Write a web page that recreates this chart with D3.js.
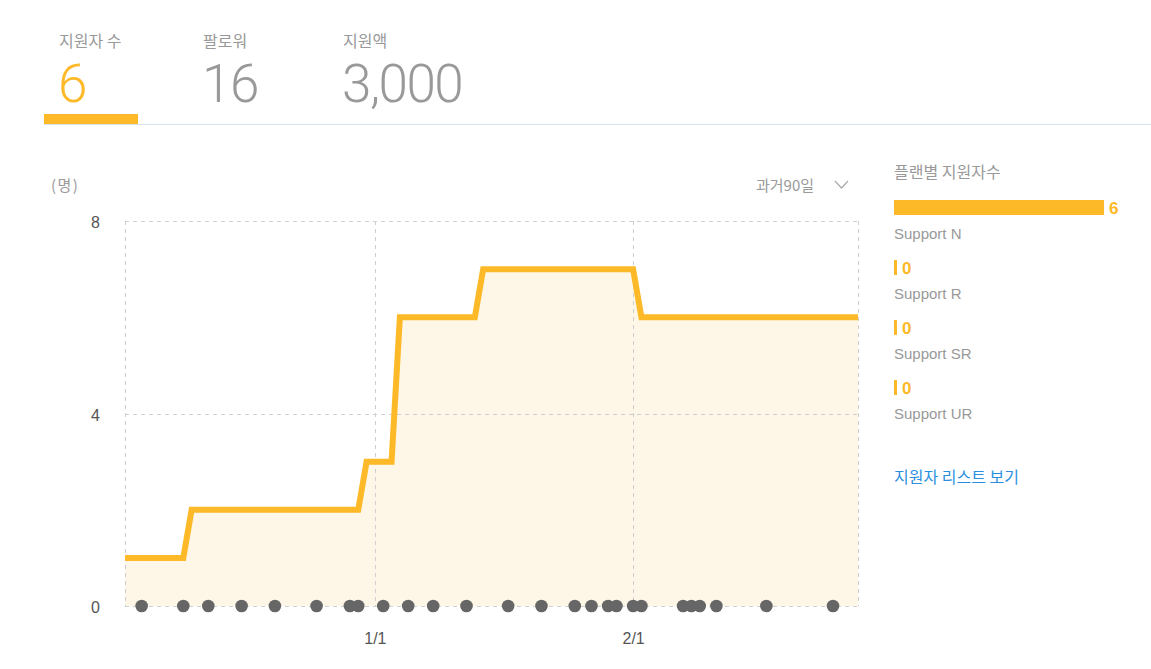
<!DOCTYPE html>
<html>
<head>
<meta charset="utf-8">
<script src="https://cdn.jsdelivr.net/npm/d3@7"></script>
<style>
  html, body { margin: 0; padding: 0; background: #fff; }
  svg { display: block; }
  text { font-family: "Liberation Sans", Arial, "Noto Sans CJK KR", sans-serif; }
  .kr { font-family: "Noto Sans CJK KR", "Liberation Sans", sans-serif; }
  .big { font-family: Roboto, "Open Sans", sans-serif; font-weight: 300; }
</style>
</head>
<body>
<svg id="chart" width="1151" height="669"></svg>
<script>
// ---------- data ----------
const tabLabels = ["지원자 수", "팔로워", "지원액"];
const tabValues = ["6", "16", "3,000"];

const lineDates  = ["2020-12-02","2020-12-09","2020-12-10","2020-12-30","2020-12-31","2021-01-03",
                    "2021-01-04","2021-01-13","2021-01-14","2021-02-01","2021-02-02","2021-02-28"];
const lineValues = [1, 1, 2, 2, 3, 3, 6, 6, 7, 7, 6, 6];

const dotDates = ["2020-12-04","2020-12-09","2020-12-12","2020-12-16","2020-12-20","2020-12-25",
                  "2020-12-29","2020-12-30","2021-01-02","2021-01-05","2021-01-08","2021-01-12",
                  "2021-01-17","2021-01-21","2021-01-25","2021-01-27","2021-01-29","2021-01-30",
                  "2021-02-01","2021-02-02","2021-02-07","2021-02-08","2021-02-09","2021-02-11",
                  "2021-02-17","2021-02-25"];

const xDomain = ["2020-12-02", "2021-02-28"];
const xTickDates = ["2021-01-01", "2021-02-01"];
const yTicks = [0, 4, 8];

const planNames  = ["Support N", "Support R", "Support SR", "Support UR"];
const planValues = [6, 0, 0, 0];

// ---------- drawing ----------
const parse = d3.timeParse("%Y-%m-%d");
const svg = d3.select("#chart");
const YELLOW = "#FDB927";

// Tabs
const tabX = [59, 203, 343];
const tabs = svg.append("g");
tabLabels.forEach((t, i) => {
  tabs.append("text").attr("class", "kr").attr("x", tabX[i]).attr("y", 47)
    .attr("font-size", 16).attr("fill", "#999").text(t);
  tabs.append("text").attr("class", "big").attr("x", tabX[i] - 1).attr("y", 102)
    .attr("font-size", 53).attr("fill", i === 0 ? YELLOW : "#999")
    .attr("letter-spacing", -1.5).text(tabValues[i]);
});
svg.append("line").attr("x1", 44).attr("x2", 1151).attr("y1", 124.5).attr("y2", 124.5)
  .attr("stroke", "#d8e2ea").attr("stroke-width", 1);
svg.append("rect").attr("x", 44).attr("y", 114).attr("width", 94).attr("height", 10).attr("fill", YELLOW);

// Chart scales
const x = d3.scaleTime().domain(xDomain.map(parse)).range([125, 858]);
const y = d3.scaleLinear().domain([0, 8]).range([606, 221]);

const lineData = lineDates.map((d, i) => ({ date: parse(d), value: lineValues[i] }));

// Area
svg.append("path")
  .datum(lineData)
  .attr("fill", "#FEF6E6")
  .attr("d", d3.area().x(d => x(d.date)).y0(y(0)).y1(d => y(d.value)));

// Grid (dashed)
const grid = svg.append("g").attr("stroke", "#cfcfcf").attr("stroke-dasharray", "4,4").attr("stroke-width", 1);
yTicks.forEach(v => {
  grid.append("line").attr("x1", x.range()[0]).attr("x2", x.range()[1])
    .attr("y1", Math.round(y(v)) + 0.5).attr("y2", Math.round(y(v)) + 0.5);
});
const vx = [x.range()[0], ...xTickDates.map(d => x(parse(d))), x.range()[1]];
vx.forEach(px => {
  grid.append("line").attr("x1", Math.round(px) + 0.5).attr("x2", Math.round(px) + 0.5)
    .attr("y1", y(8)).attr("y2", y(0));
});

// Line
svg.append("path")
  .datum(lineData)
  .attr("fill", "none")
  .attr("stroke", YELLOW)
  .attr("stroke-width", 6)
  .attr("stroke-linejoin", "miter")
  .attr("d", d3.line().x(d => x(d.date)).y(d => y(d.value)));

// Dots
svg.append("g").selectAll("circle").data(dotDates).join("circle")
  .attr("cx", d => x(parse(d))).attr("cy", y(0)).attr("r", 6.3).attr("fill", "#666");

// Y axis
const yAxis = svg.append("g").attr("transform", "translate(100,1.5)")
  .call(d3.axisLeft(y).tickValues(yTicks).tickSize(0).tickPadding(0));
yAxis.select(".domain").remove();
yAxis.selectAll("text").attr("font-size", 16).attr("fill", "#555")
  .attr("font-family", "Liberation Sans, Arial, sans-serif");

// X axis
const xAxis = svg.append("g").attr("transform", "translate(0,633)")
  .call(d3.axisBottom(x).tickValues(xTickDates.map(parse)).tickFormat(d3.timeFormat("%-m/%-d")).tickSize(0).tickPadding(0));
xAxis.select(".domain").remove();
xAxis.selectAll("text").attr("font-size", 16).attr("fill", "#555")
  .attr("font-family", "Liberation Sans, Arial, sans-serif");

// Unit label & period selector
svg.append("text").attr("class", "kr").attr("x", 51).attr("y", 191).attr("font-size", 15)
  .attr("fill", "#999").attr("letter-spacing", 1.5).text("(명)");
svg.append("text").attr("class", "kr").attr("x", 756).attr("y", 191).attr("font-size", 15)
  .attr("fill", "#999").text("과거90일");
svg.append("polyline").attr("points", "835,181 841.5,188 848,181")
  .attr("fill", "none").attr("stroke", "#aaa").attr("stroke-width", 1.2);

// Right panel
svg.append("text").attr("class", "kr").attr("x", 894).attr("y", 178).attr("font-size", 16)
  .attr("fill", "#999").text("플랜별 지원자수");
const bx = d3.scaleLinear().domain([0, d3.max(planValues)]).range([0, 210]);
const rows = svg.append("g").selectAll("g").data(planNames).join("g")
  .attr("transform", (d, i) => `translate(894,${200 + i * 60})`);
rows.append("rect").attr("x", 0).attr("y", 0).attr("height", 15)
  .attr("width", (d, i) => Math.max(3, bx(planValues[i]))).attr("fill", YELLOW);
rows.append("text").attr("x", (d, i) => Math.max(3, bx(planValues[i])) + 5).attr("y", 14)
  .attr("font-size", 17).attr("font-weight", "bold").attr("fill", YELLOW)
  .text((d, i) => planValues[i]);
rows.append("text").attr("x", 0).attr("y", 39).attr("font-size", 15).attr("fill", "#999")
  .text(d => d);

svg.append("text").attr("class", "kr").attr("x", 894).attr("y", 483).attr("font-size", 16)
  .attr("fill", "#2b8fe0").text("지원자 리스트 보기");
</script>
</body>
</html>
